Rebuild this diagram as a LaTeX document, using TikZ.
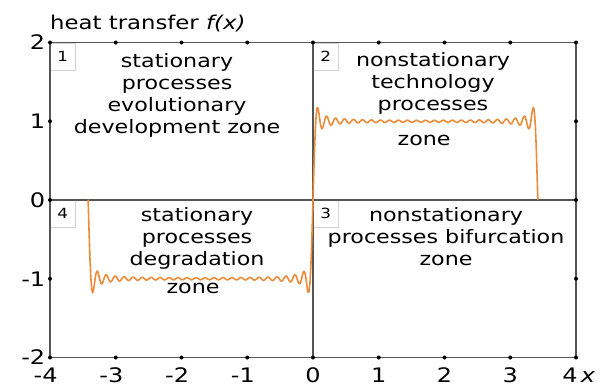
\documentclass[tikz,border=0pt]{standalone}
\usepackage{fontspec}
\setmainfont{DejaVu Sans}[FakeStretch=1.2]
\usetikzlibrary{positioning}

\definecolor{curveorange}{RGB}{236,140,58}
\definecolor{framegray}{RGB}{85,85,85}

\begin{document}
\begin{tikzpicture}[x=65.75pt, y=78.75pt,
	zonetext/.style={align=center, inner sep=0pt, font=\fontsize{18.5}{22}\selectfont},
	ticklabel/.style={inner sep=0pt, font=\fontsize{20}{24}\selectfont},
	numbox/.style={draw=gray!35, fill=white, anchor=north west, minimum width=25pt, minimum height=27pt, inner sep=0pt, font=\fontsize{14}{16}\selectfont}]
	\useasboundingbox (-4.7605,-2.3746) rectangle (4.4867,2.5397);

	% partial Fourier sum of the square wave
	\def\fsum{0}
	\foreach \k in {1,3,...,49} {
		\xdef\fsum{\unexpanded\expandafter{\fsum}+sin(\k*\noexpand\x*52.632)/\k}
	};

	\node[numbox] (n1) at (-4, 2) {1};
	\node[numbox] (n2) at (0, 2) {2};
	\node[numbox] (n3) at (0, 0) {3};
	\node[numbox] (n4) at (-4, 0) {4};

	\draw[framegray, line width=1.8pt] (-4, -2) rectangle (4, 2);
	\draw[framegray, line width=1.8pt] (-4, 0) -- (4, 0);
	\draw[framegray, line width=1.8pt] (0, -2) -- (0, 2);

	\foreach \t in {-4,...,4} {
		\fill (\t, 2) circle (2pt);
		\fill (\t, -2) circle (2pt);
	};
	\foreach \t in {-1,0,1} {
		\fill (-4, \t) circle (2pt);
		\fill (4, \t) circle (2pt);
	};

	\draw[curveorange, line width=1.6pt, line join=round, samples=500, domain=-3.42:3.4] (-3.42, 0) -- plot (\x, {4/pi*(\fsum)}) -- (3.42, 0);

	\node[anchor=base west, inner sep=0pt, font=\fontsize{19}{22}\selectfont] (title) at (-4.0, 2.159) {heat transfer \textit{f(x)}};

	\foreach \p/\s in {2/2,1/1,0/0,-1/-1,-2/-2} {
		\node[ticklabel, anchor=east] (y\p) at (-4.07, \p) {\s};
	};
	\foreach \t in {0,...,3} {
		\node[ticklabel, anchor=base] (xp\t) at (\t, -2.32) {\t};
	};
	\node[ticklabel, anchor=base] (xp4) at (3.91, -2.32) {4};
	\foreach \t in {1,...,4} {
		\node[ticklabel, anchor=base] (xm\t) at (-\t, -2.32) {\llap{-}\t};
	};
	\node[ticklabel, anchor=base west] (xlab) at (4.07, -2.32) {\textit{x}};

	\node[zonetext] (z1) at (-2.068, 1.333) {stationary\\processes\\evolutionary\\development zone};
	\node[zonetext] (z2) at (1.825, 1.486) {nonstationary\\technology\\processes};
	\node[zonetext] (z2b) at (1.69, 0.762) {zone};
	\node[zonetext] (z3) at (2.023, -0.47) {nonstationary\\processes bifurcation\\zone};
	\node[zonetext] (z4) at (-1.764, -0.483) {stationary\\processes\\degradation};
	\node[zonetext] (z4b) at (-1.825, -1.117) {zone};
\end{tikzpicture}
\end{document}
